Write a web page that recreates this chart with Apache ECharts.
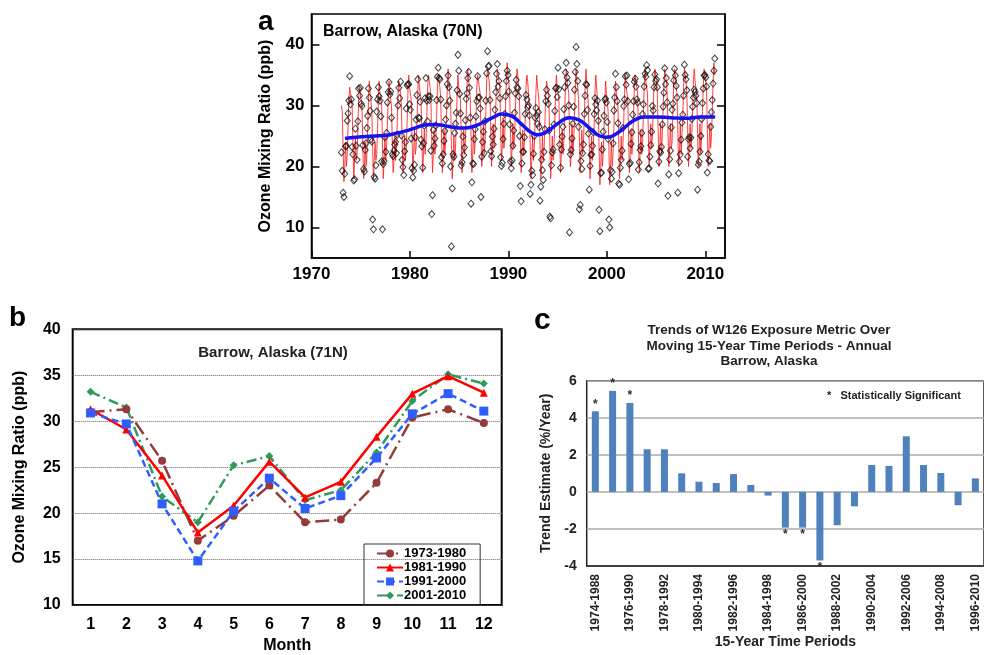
<!DOCTYPE html>
<html>
<head>
<meta charset="utf-8">
<script src="https://cdn.jsdelivr.net/npm/echarts@6/dist/echarts.min.js"></script>
<style>
  html, body { margin: 0; background: #fff; }
  #chart { width: 984px; height: 655px; }
</style>
</head>
<body>
<div id="chart"></div>
<script>
// ---- panel a: Barrow monthly ozone (ppb), Jan..Dec per row, from 1973 ----
const startYear = 1973;
const obsMonthly = [
  [22.3,19.3,15.7,15.0,18.8,23.3,23.4,27.5,28.7,30.8,34.8,30.2],
  [31.0,23.2,22.0,17.7,17.9,26.2,23.4,21.1,27.4,32.8,31.6,32.9],
  [30.3,29.9,23.5,19.6,19.2,22.7,23.8,26.3,28.3,32.8,31.3,29.1],
  [24.5,24.1,11.3,9.7,18.3,18.0,20.2,29.0,31.0,33.0,31.5,30.8],
  [28.2,20.8,9.7,20.4,20.9,24.8,22.4,25.5,30.5,32.2,33.8,31.8],
  [32.3,28.0,22.0,21.7,22.6,23.6,24.0,22.2,25.2,30.0,32.9,31.2],
  [33.9,25.1,21.1,19.9,18.6,22.5,24.0,29.5,33.3,33.5,33.5,30.2],
  [29.3,24.6,19.7,18.2,19.3,20.3,24.8,27.7,31.7,34.3,28.0,27.9],
  [30.6,24.4,23.3,19.8,23.8,26.7,31.2,34.5,30.8,27.4,31.5,30.9],
  [31.5,22.6,12.2,15.3,26.0,23.4,24.6,26.7,30.9,34.7,36.2,34.5],
  [34.3,31.0,21.5,20.5,22.0,24.2,25.8,27.7,30.0,33.5,34.9,33.0],
  [30.8,20.0,6.9,16.4,22.0,21.6,25.5,27.0,28.8,32.5,38.3,35.7],
  [31.9,28.7,20.2,20.7,24.9,21.9,23.1,27.6,31.1,32.0,34.5,35.5],
  [32.9,28.0,13.9,17.4,20.5,20.4,24.5,26.1,28.2,30.7,34.8,31.3],
  [31.3,29.5,15.0,21.6,24.0,25.7,22.2,27.4,30.8,35.3,38.9,36.4],
  [36.5,30.9,22.5,21.7,24.9,23.6,26.2,29.3,32.2,35.2,36.8,33.1],
  [34.0,31.2,21.5,20.1,20.6,24.5,27.0,28.6,31.5,34.0,35.7,35.0],
  [32.3,26.9,20.8,19.7,21.0,23.4,25.9,28.8,32.0,34.2,33.0,32.8],
  [31.5,25.0,16.8,14.3,20.5,22.4,22.4,24.8,28.6,31.7,31.0,29.7],
  [30.0,28.4,15.5,17.0,19.3,18.6,22.1,25.0,28.0,29.6,28.4,27.0],
  [28.9,26.5,14.4,16.7,21.1,19.4,17.8,22.4,26.1,30.7,32.6,31.6],
  [30.3,25.9,11.8,11.5,20.2,22.3,22.8,26.9,29.1,32.8,32.9,31.4],
  [36.2,32.7,23.6,19.8,22.8,24.9,26.5,29.4,33.0,35.4,37.0,34.6],
  [33.7,30.0,9.2,22.0,22.7,24.6,27.0,29.8,32.6,35.5,39.6,36.8],
  [34.0,26.5,13.0,13.7,20.9,19.6,22.2,23.6,28.6,31.6,33.5,33.4],
  [29.3,25.4,16.2,20.1,21.9,22.0,23.4,25.6,28.6,31.2,30.2,29.2],
  [30.8,27.5,12.9,9.4,18.9,19.0,22.8,25.7,28.3,31.0,31.1,30.5],
  [27.3,24.5,11.3,10.0,19.4,18.0,19.1,23.8,29.2,31.3,35.2,33.0],
  [30.7,27.1,17.2,17.0,19.8,21.1,22.6,26.3,29.9,31.0,34.8,33.4],
  [34.9,30.7,17.9,20.4,20.6,23.7,25.6,28.5,30.7,33.9,34.4,33.1],
  [31.0,30.5,19.5,20.7,22.7,23.3,25.5,28.6,30.2,33.1,35.2,34.7],
  [36.6,35.8,19.6,19.7,21.6,23.5,25.7,29.9,29.2,33.0,35.1,34.0],
  [34.3,33.0,17.2,20.8,22.5,22.3,23.2,26.9,29.8,32.1,36.1,33.5],
  [34.5,30.5,15.2,18.7,21.2,22.6,26.4,29.3,30.3,34.1,36.0,34.9],
  [33.2,31.3,15.7,18.9,20.8,22.0,24.4,27.2,28.5,31.6,36.7,35.0],
  [34.3,32.5,21.6,24.5,24.8,23.0,24.7,27.8,29.8,31.3,32.6,32.2],
  [31.6,30.4,16.2,20.3,20.8,22.4,25.0,27.8,30.4,32.8,34.9,35.0],
  [34.6,33.1,19.0,22.0,21.0,20.9,26.5,28.9,30.9,33.6,35.7,37.7]
];
// red seasonal fit, same layout
const fitMonthly = [
  [30,29,23,17.5,20,24,20,22,26,31,33,32],
  [31,30,24,18,21,25,21,22,26,31,33,32],
  [31,30,24,18,20,24,20,22,26,31,34,32],
  [31,29,23,18,21,24,21,22,26,31,34,32],
  [31,30,24,18,21,25,21,23,27,31,34,32],
  [32,30,24,19,21,25,21,23,27,32,34,33],
  [32,30,24,19,21,25,21,23,27,32,35,33],
  [32,31,25,19,22,26,22,23,27,32,35,33],
  [33,31,25,19,22,26,22,24,28,33,35,34],
  [33,31,25,19,22,26,22,24,28,33,35,34],
  [33,31,25,19,22,26,22,24,28,33,36,34],
  [32,31,24,18,21,25,21,23,27,32,35,33],
  [33,31,25,19,22,26,22,24,28,33,36,34],
  [33,31,25,19,22,26,22,24,28,33,35,34],
  [33,32,26,20,22,27,22,24,29,34,36,35],
  [34,32,26,20,23,27,23,25,29,34,36,35],
  [34,33,27,21,23,28,23,25,30,34,37,35],
  [34,32,26,20,23,27,23,25,29,34,36,35],
  [33,31,25,19,22,26,22,24,28,33,35,34],
  [32,30,24,18,21,25,21,23,27,32,35,33],
  [32,30,24,18,20,25,21,23,27,32,34,33],
  [32,30,24,18,21,25,21,23,27,32,35,33],
  [33,31,25,19,22,26,22,24,28,33,36,34],
  [33,32,26,20,22,27,22,24,28,33,36,34],
  [33,31,25,19,22,26,22,24,28,33,36,34],
  [32,30,24,18,21,25,21,23,27,32,35,33],
  [31,30,23,17,20,24,20,22,26,31,34,32],
  [31,29,23,17,20,24,20,22,26,31,34,32],
  [32,30,24,18,21,25,21,23,27,32,35,33],
  [33,31,25,19,22,26,22,24,28,33,35,34],
  [33,32,25,19,22,26,22,24,28,33,36,34],
  [34,32,26,20,23,27,23,25,29,34,36,35],
  [34,32,26,20,23,27,22,25,29,33,36,35],
  [34,32,26,20,23,27,23,24,29,34,36,35],
  [33,32,26,20,22,27,22,25,28,33,36,35],
  [34,32,26,20,23,27,23,25,29,34,36,34],
  [34,32,26,20,23,27,22,25,29,33,36,35],
  [34,33,26,20,23,27,23,25,29,34,37,35]
];
// blue smoothed trend
const trendX = [1973.4,1974.5,1975.5,1976.5,1977.5,1978.5,1979.5,1980.5,1981.5,1982.5,1983.5,1984.5,1985.5,1986.5,1987.5,1988.5,1989.3,1990.3,1991.3,1992.3,1993.0,1993.8,1995.0,1996.2,1997.2,1998.3,1999.3,2000.0,2000.8,2001.8,2002.8,2003.8,2005.0,2006.5,2008.0,2009.5,2011.0];
const trendY = [24.6,24.8,24.9,25.0,25.1,25.4,25.8,26.3,26.8,26.9,26.7,26.4,26.3,26.6,27.3,28.1,28.6,28.3,27.0,25.6,25.2,25.6,27.0,28.0,27.6,26.2,25.0,24.8,25.2,26.4,27.6,28.1,28.1,28.0,27.9,28.1,28.1];

// ---- panel b: mean seasonal cycle by decade ----
const months = ['1','2','3','4','5','6','7','8','9','10','11','12'];
const d1973 = [31.0,31.3,25.7,17.0,19.7,23.0,19.0,19.3,23.3,30.4,31.3,29.8];
const d1981 = [31.3,29.1,24.1,17.9,20.8,25.6,21.7,23.4,28.3,33.0,34.9,33.1];
const d1991 = [30.9,29.7,21.0,14.8,20.2,23.8,20.5,21.9,26.0,30.8,33.0,31.1];
const d2001 = [33.2,31.5,21.8,19.0,25.2,26.2,21.4,22.5,26.6,32.2,35.1,34.1];

// ---- panel c: W126 trends over moving 15-year periods ----
const periods = ['1974-1988','1975-1989','1976-1990','1977-1991','1978-1992','1979-1993','1980-1994','1981-1995','1982-1996','1983-1997','1984-1998','1985-1999','1986-2000','1987-2001','1988-2002','1989-2003','1990-2004','1991-2005','1992-2006','1993-2007','1994-2008','1995-2009','1996-2010'];
const trendPct = [4.35,5.45,4.8,2.3,2.3,1.0,0.55,0.48,0.96,0.37,-0.2,-1.93,-1.93,-3.7,-1.8,-0.78,1.45,1.4,3.0,1.45,1.02,-0.72,0.73];
const significant = [1,1,1,0,0,0,0,0,0,0,0,1,1,1,0,0,0,0,0,0,0,0,0];

const FONT = 'Liberation Sans, Arial, sans-serif';
const bold = (size) => ({ fontFamily: FONT, fontWeight: 'bold', fontSize: size, color: '#000' });

const obsPts = [], fitPts = [];
obsMonthly.forEach((row, i) => row.forEach((v, m) => obsPts.push([startYear + i + (m + 0.5) / 12, v])));
fitMonthly.forEach((row, i) => row.forEach((v, m) => fitPts.push([startYear + i + (m + 0.5) / 12, v])));
const trendPts = trendX.map((x, i) => [x, trendY[i]]);

const barData = trendPct.map((v, i) => significant[i]
  ? { value: v, label: { show: true, position: v > 0 ? 'top' : 'bottom', distance: 1 } }
  : v);

const chart = echarts.init(document.getElementById('chart'));

chart.setOption({
  animation: false,
  backgroundColor: '#fff',
  textStyle: { fontFamily: FONT },
  grid: [
    { left: 311.5, top: 14, width: 413.5, height: 244, show: true, borderColor: '#000', borderWidth: 1.5, backgroundColor: 'transparent' },
    { left: 72.7, top: 329.3, width: 429, height: 280, show: true, borderColor: '#000', borderWidth: 2 },
    { left: 586.7, top: 380.7, width: 414, height: 185.3, show: true, borderColor: '#222', borderWidth: 1.5 }
  ],
  xAxis: [
    {
      gridIndex: 0, type: 'value', min: 1970, max: 2012, interval: 10,
      axisLine: { show: true, lineStyle: { color: '#000', width: 1.5 } },
      axisTick: { inside: true, length: 7, customValues: [1970, 1980, 1990, 2000, 2010], lineStyle: { color: '#000', width: 1.5 } },
      axisLabel: { ...bold(17), margin: 8, customValues: [1970, 1980, 1990, 2000, 2010], formatter: (v) => String(v) },
      splitLine: { show: false }
    },
    {
      gridIndex: 1, type: 'category', data: months,
      axisLine: { show: false }, axisTick: { show: false },
      axisLabel: { ...bold(16), margin: 12 },
      name: 'Month', nameLocation: 'middle', nameGap: 33,
      nameTextStyle: bold(16)
    },
    {
      gridIndex: 2, type: 'category', data: periods,
      axisLine: { onZero: false, lineStyle: { color: '#222', width: 1.5 } },
      axisTick: { show: false },
      axisLabel: { ...bold(12), color: '#222', rotate: 90, interval: 1, margin: 8 },
      name: '15-Year Time Periods', nameLocation: 'middle', nameGap: 68,
      nameTextStyle: { ...bold(14), color: '#222' }
    }
  ],
  yAxis: [
    {
      gridIndex: 0, type: 'value', min: 5, max: 45,
      axisLine: { show: true, lineStyle: { color: '#000', width: 1.5 } },
      axisTick: { inside: true, length: 8, customValues: [10, 20, 30, 40], lineStyle: { color: '#000', width: 1.5 } },
      axisLabel: { ...bold(17), margin: 7, customValues: [10, 20, 30, 40] },
      splitLine: { show: false },
      name: 'Ozone Mixing Ratio (ppb)', nameLocation: 'middle', nameGap: 38, nameRotate: 90,
      nameTextStyle: bold(16)
    },
    {
      gridIndex: 0, type: 'value', min: 5, max: 45, position: 'right',
      axisLine: { show: true, lineStyle: { color: '#000', width: 1.5 } },
      axisTick: { inside: true, length: 8, customValues: [10, 20, 30, 40], lineStyle: { color: '#000', width: 1.5 } },
      axisLabel: { show: false },
      splitLine: { show: false }
    },
    {
      gridIndex: 1, type: 'value', min: 10, max: 40, interval: 5,
      axisLine: { show: false }, axisTick: { show: false },
      axisLabel: { ...bold(16), margin: 12 },
      splitLine: { lineStyle: { type: 'dotted', color: '#666', width: 1 } },
      name: 'Ozone Mixing Ratio (ppb)', nameLocation: 'middle', nameGap: 45, nameRotate: 90,
      nameTextStyle: bold(16)
    },
    {
      gridIndex: 2, type: 'value', min: -4, max: 6, interval: 2,
      axisLine: { show: false }, axisTick: { show: false },
      axisLabel: { ...bold(14), color: '#222', margin: 10 },
      splitLine: { lineStyle: { color: '#aaa', width: 1.5 } },
      name: 'Trend Estimate (%/Year)', nameLocation: 'middle', nameGap: 34, nameRotate: 90,
      nameTextStyle: { ...bold(14), color: '#222' }
    }
  ],
  legend: {
    data: ['1973-1980', '1981-1990', '1991-2000', '2001-2010'],
    orient: 'vertical', left: 364, top: 544,
    itemGap: 1, itemWidth: 26, itemHeight: 10,
    borderColor: '#333', borderWidth: 1, padding: [3, 14, 3, 12],
    textStyle: { ...bold(13), padding: [0, 0, 0, -4] }
  },
  series: [
    {
      name: 'fit', type: 'line', xAxisIndex: 0, yAxisIndex: 0, data: fitPts,
      showSymbol: false, lineStyle: { color: '#ff2020', width: 1, opacity: 0.85 }, z: 2, silent: true
    },
    {
      name: 'obs', type: 'scatter', xAxisIndex: 0, yAxisIndex: 0, data: obsPts,
      symbol: 'diamond', symbolSize: [6, 7],
      itemStyle: { color: 'rgba(255,255,255,0)', borderColor: '#111', borderWidth: 1 }, z: 3
    },
    {
      name: 'trend', type: 'line', xAxisIndex: 0, yAxisIndex: 0, data: trendPts, smooth: true,
      showSymbol: false, lineStyle: { color: '#1414f0', width: 3.5 }, z: 4
    },
    {
      name: '1973-1980', type: 'line', xAxisIndex: 1, yAxisIndex: 2, data: d1973,
      symbol: 'circle', symbolSize: 8, color: '#953a3a',
      lineStyle: { width: 2.5, type: [14, 5, 2, 5] }, z: 5
    },
    {
      name: '1981-1990', type: 'line', xAxisIndex: 1, yAxisIndex: 2, data: d1981,
      symbol: 'triangle', symbolSize: 8, color: '#ff0000',
      lineStyle: { width: 2.5, type: 'solid' }, z: 6
    },
    {
      name: '1991-2000', type: 'line', xAxisIndex: 1, yAxisIndex: 2, data: d1991,
      symbol: 'rect', symbolSize: 9, color: '#2f5dff',
      lineStyle: { width: 2.5, type: [7, 4] }, z: 7
    },
    {
      name: '2001-2010', type: 'line', xAxisIndex: 1, yAxisIndex: 2, data: d2001,
      symbol: 'diamond', symbolSize: 8, color: '#2e9a5c',
      lineStyle: { width: 2.5, type: [10, 4, 2, 4] }, z: 4
    },
    {
      name: 'W126', type: 'bar', xAxisIndex: 2, yAxisIndex: 3, data: barData,
      barWidth: 7, itemStyle: { color: '#4f81bd' },
      label: { show: false, formatter: '*', ...bold(12), color: '#3a2a2a' }
    }
  ],
  graphic: [
    { type: 'text', x: 258, y: 22, style: { text: 'a', font: 'bold 28px ' + FONT, fill: '#000', textVerticalAlign: 'middle' } },
    { type: 'text', x: 323, y: 32, style: { text: 'Barrow, Alaska (70N)', font: 'bold 16px ' + FONT, fill: '#000', textVerticalAlign: 'middle' } },
    { type: 'text', x: 9, y: 318, style: { text: 'b', font: 'bold 28px ' + FONT, fill: '#000', textVerticalAlign: 'middle' } },
    { type: 'text', x: 273, y: 353, style: { text: 'Barrow, Alaska (71N)', font: 'bold 15px ' + FONT, fill: '#222', textAlign: 'center', textVerticalAlign: 'middle' } },
    { type: 'text', x: 534, y: 321, style: { text: 'c', font: 'bold 30px ' + FONT, fill: '#000', textVerticalAlign: 'middle' } },
    { type: 'text', x: 769, y: 323, style: { text: 'Trends of W126 Exposure Metric Over\nMoving 15-Year Time Periods - Annual\nBarrow, Alaska', font: 'bold 13.5px ' + FONT, lineHeight: 15.5, fill: '#222', textAlign: 'center' } },
    { type: 'text', x: 827, y: 396, style: { text: '*   Statistically Significant', font: 'bold 11px ' + FONT, fill: '#222', textVerticalAlign: 'middle' } }
  ]
});
</script>
</body>
</html>
